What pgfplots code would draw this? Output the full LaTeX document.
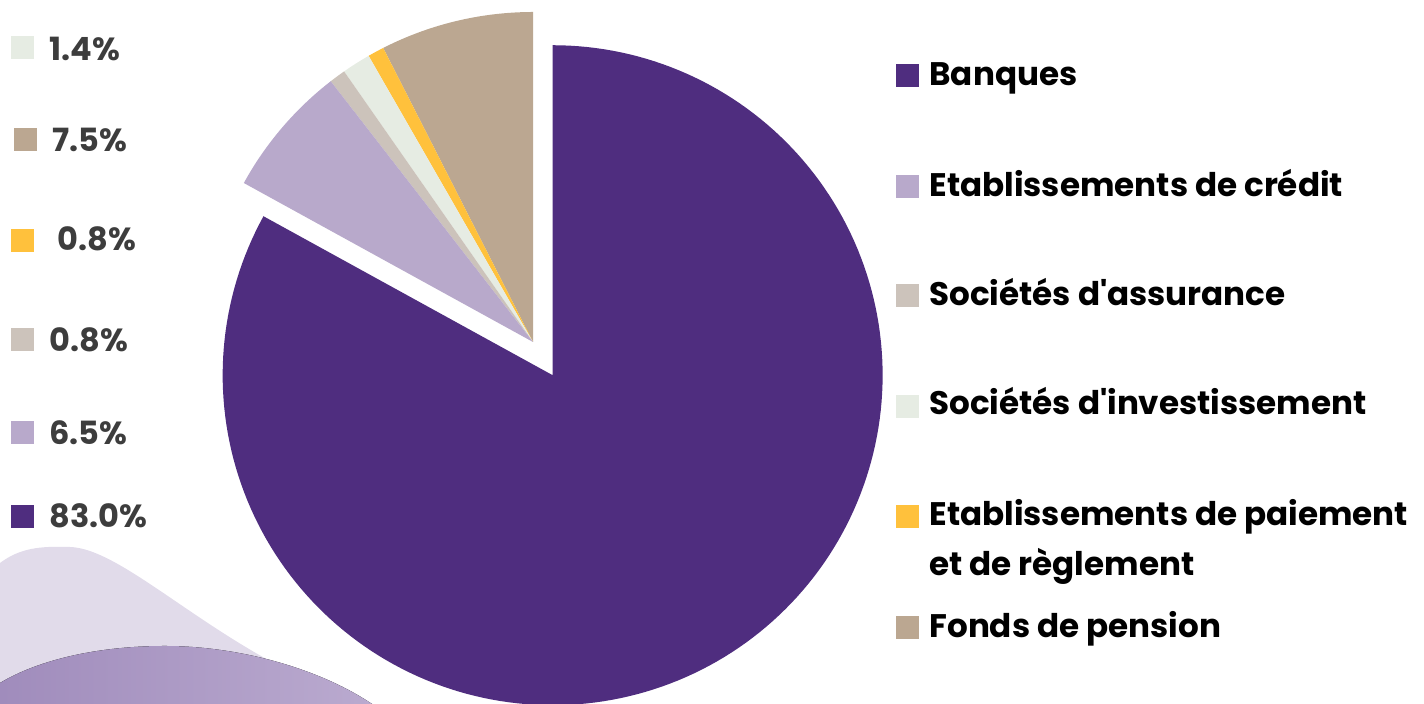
\documentclass[border=0pt]{standalone}
\usepackage{pgfplots}
\pgfplotsset{compat=1.18}
\usepackage{fontspec}
\setmainfont{Poppins}[Ligatures=TeXOff]
\definecolor{cBanques}{HTML}{4F2D7F}
\definecolor{cCredit}{HTML}{B8A9CB}
\definecolor{cAssur}{HTML}{CCC3BB}
\definecolor{cInvest}{HTML}{E6ECE3}
\definecolor{cPaie}{HTML}{FFC13C}
\definecolor{cFonds}{HTML}{BBA791}
\definecolor{cLblob}{HTML}{E1DBEA}
\definecolor{cDblobL}{HTML}{A08CBC}
\definecolor{cDblobR}{HTML}{BAAACF}
\definecolor{cPct}{HTML}{3D3D3D}
% shares (%)
\def\vBanques{83.0}
\def\vCredit{6.5}
\def\vAssur{0.8}
\def\vInvest{1.4}
\def\vPaie{0.8}
\def\vFonds{7.5}
\begin{document}
\begin{tikzpicture}
\useasboundingbox (0,0) rectangle (712pt,352pt);
\pgfmathsetmacro\aA{90}
\pgfmathsetmacro\aB{\aA+3.6*\vFonds}
\pgfmathsetmacro\aC{\aB+3.6*\vPaie}
\pgfmathsetmacro\aD{\aC+3.6*\vInvest}
\pgfmathsetmacro\aE{\aD+3.6*\vAssur}
\pgfmathsetmacro\aF{\aE+3.6*\vCredit}
\pgfmathsetmacro\aG{\aF+3.6*\vBanques}
\pgfmathsetmacro\mid{(\aF+\aG)/2}
\pgfmathsetmacro\cx{533}
\pgfmathsetmacro\cy{362}
\pgfmathsetmacro\bx{\cx+38.6*cos(\mid)}
\pgfmathsetmacro\by{\cy+38.6*sin(\mid)}
\def\R{330}
\begin{axis}[
  scale only axis, width=712pt, height=352pt,
  xmin=0, xmax=1424, ymin=0, ymax=704,
  axis lines=none, clip=false,
  every axis plot/.append style={draw=none},
]
% decorative blobs
\fill[cLblob] (axis cs:0,141) .. controls (axis cs:20,156) and (axis cs:40,158) .. (axis cs:70,157)
  .. controls (axis cs:130,155) and (axis cs:230,40) .. (axis cs:372,0) -- (axis cs:0,0) -- cycle;
\fill[left color=cDblobL, right color=cDblobR] (axis cs:0,21) .. controls (axis cs:40,45) and (axis cs:100,58) .. (axis cs:165,58)
  .. controls (axis cs:240,58) and (axis cs:320,35) .. (axis cs:372,0) -- (axis cs:0,0) -- cycle;
% pie wedges
\addplot[fill=cFonds, domain=\aA:\aB, samples=40] ({\cx+\R*cos(x)},{\cy+\R*sin(x)}) -- (axis cs:\cx,\cy) -- cycle;
\addplot[fill=cPaie, domain=\aB:\aC, samples=10] ({\cx+\R*cos(x)},{\cy+\R*sin(x)}) -- (axis cs:\cx,\cy) -- cycle;
\addplot[fill=cInvest, domain=\aC:\aD, samples=10] ({\cx+\R*cos(x)},{\cy+\R*sin(x)}) -- (axis cs:\cx,\cy) -- cycle;
\addplot[fill=cAssur, domain=\aD:\aE, samples=10] ({\cx+\R*cos(x)},{\cy+\R*sin(x)}) -- (axis cs:\cx,\cy) -- cycle;
\addplot[fill=cCredit, domain=\aE:\aF, samples=40] ({\cx+\R*cos(x)},{\cy+\R*sin(x)}) -- (axis cs:\cx,\cy) -- cycle;
\addplot[fill=cBanques, domain=\aF:\aG, samples=200] ({\bx+\R*cos(x)},{\by+\R*sin(x)}) -- (axis cs:\bx,\by) -- cycle;
% left legend (percentages)
\def\sq{11.5}
\foreach \c/\x/\y in {cInvest/22/656, cFonds/25/564, cPaie/22/463, cAssur/22/364, cCredit/22/271, cBanques/22/187}{
  \edef\tmp{\noexpand\fill[\c] (axis cs:\x-\sq,\y-\sq) rectangle (axis cs:\x+\sq,\y+\sq);}\tmp
}
\begin{scope}[every node/.style={anchor=base west, inner sep=0pt, text=cPct, font=\fontsize{16pt}{19pt}\selectfont\bfseries}]
\node at (axis cs:49,643) {1.4\%};
\node at (axis cs:52,552) {7.5\%};
\node at (axis cs:57,453) {0.8\%};
\node at (axis cs:49,352) {0.8\%};
\node at (axis cs:49,259) {6.5\%};
\node at (axis cs:49,176) {83.0\%};
\end{scope}
% right legend
\foreach \c/\y in {cBanques/628, cCredit/517.5, cAssur/408, cInvest/297, cPaie/187, cFonds/76.5}{
  \edef\tmp{\noexpand\fill[\c] (axis cs:896,\y-\sq) rectangle (axis cs:919,\y+\sq);}\tmp
}
\begin{scope}[every node/.style={anchor=base west, inner sep=0pt, text=black, font=\fontsize{16.3pt}{19pt}\selectfont\bfseries}]
\node at (axis cs:929,618) {Banques};
\node at (axis cs:929,507) {Etablissements de crédit};
\node at (axis cs:929,398) {Sociétés d'assurance};
\node at (axis cs:929,289) {Sociétés d'investissement};
\node at (axis cs:929,178) {Etablissements de paiement};
\node at (axis cs:929,128) {et de règlement};
\node at (axis cs:929,66) {Fonds de pension};
\end{scope}
\end{axis}
\end{tikzpicture}
\end{document}
